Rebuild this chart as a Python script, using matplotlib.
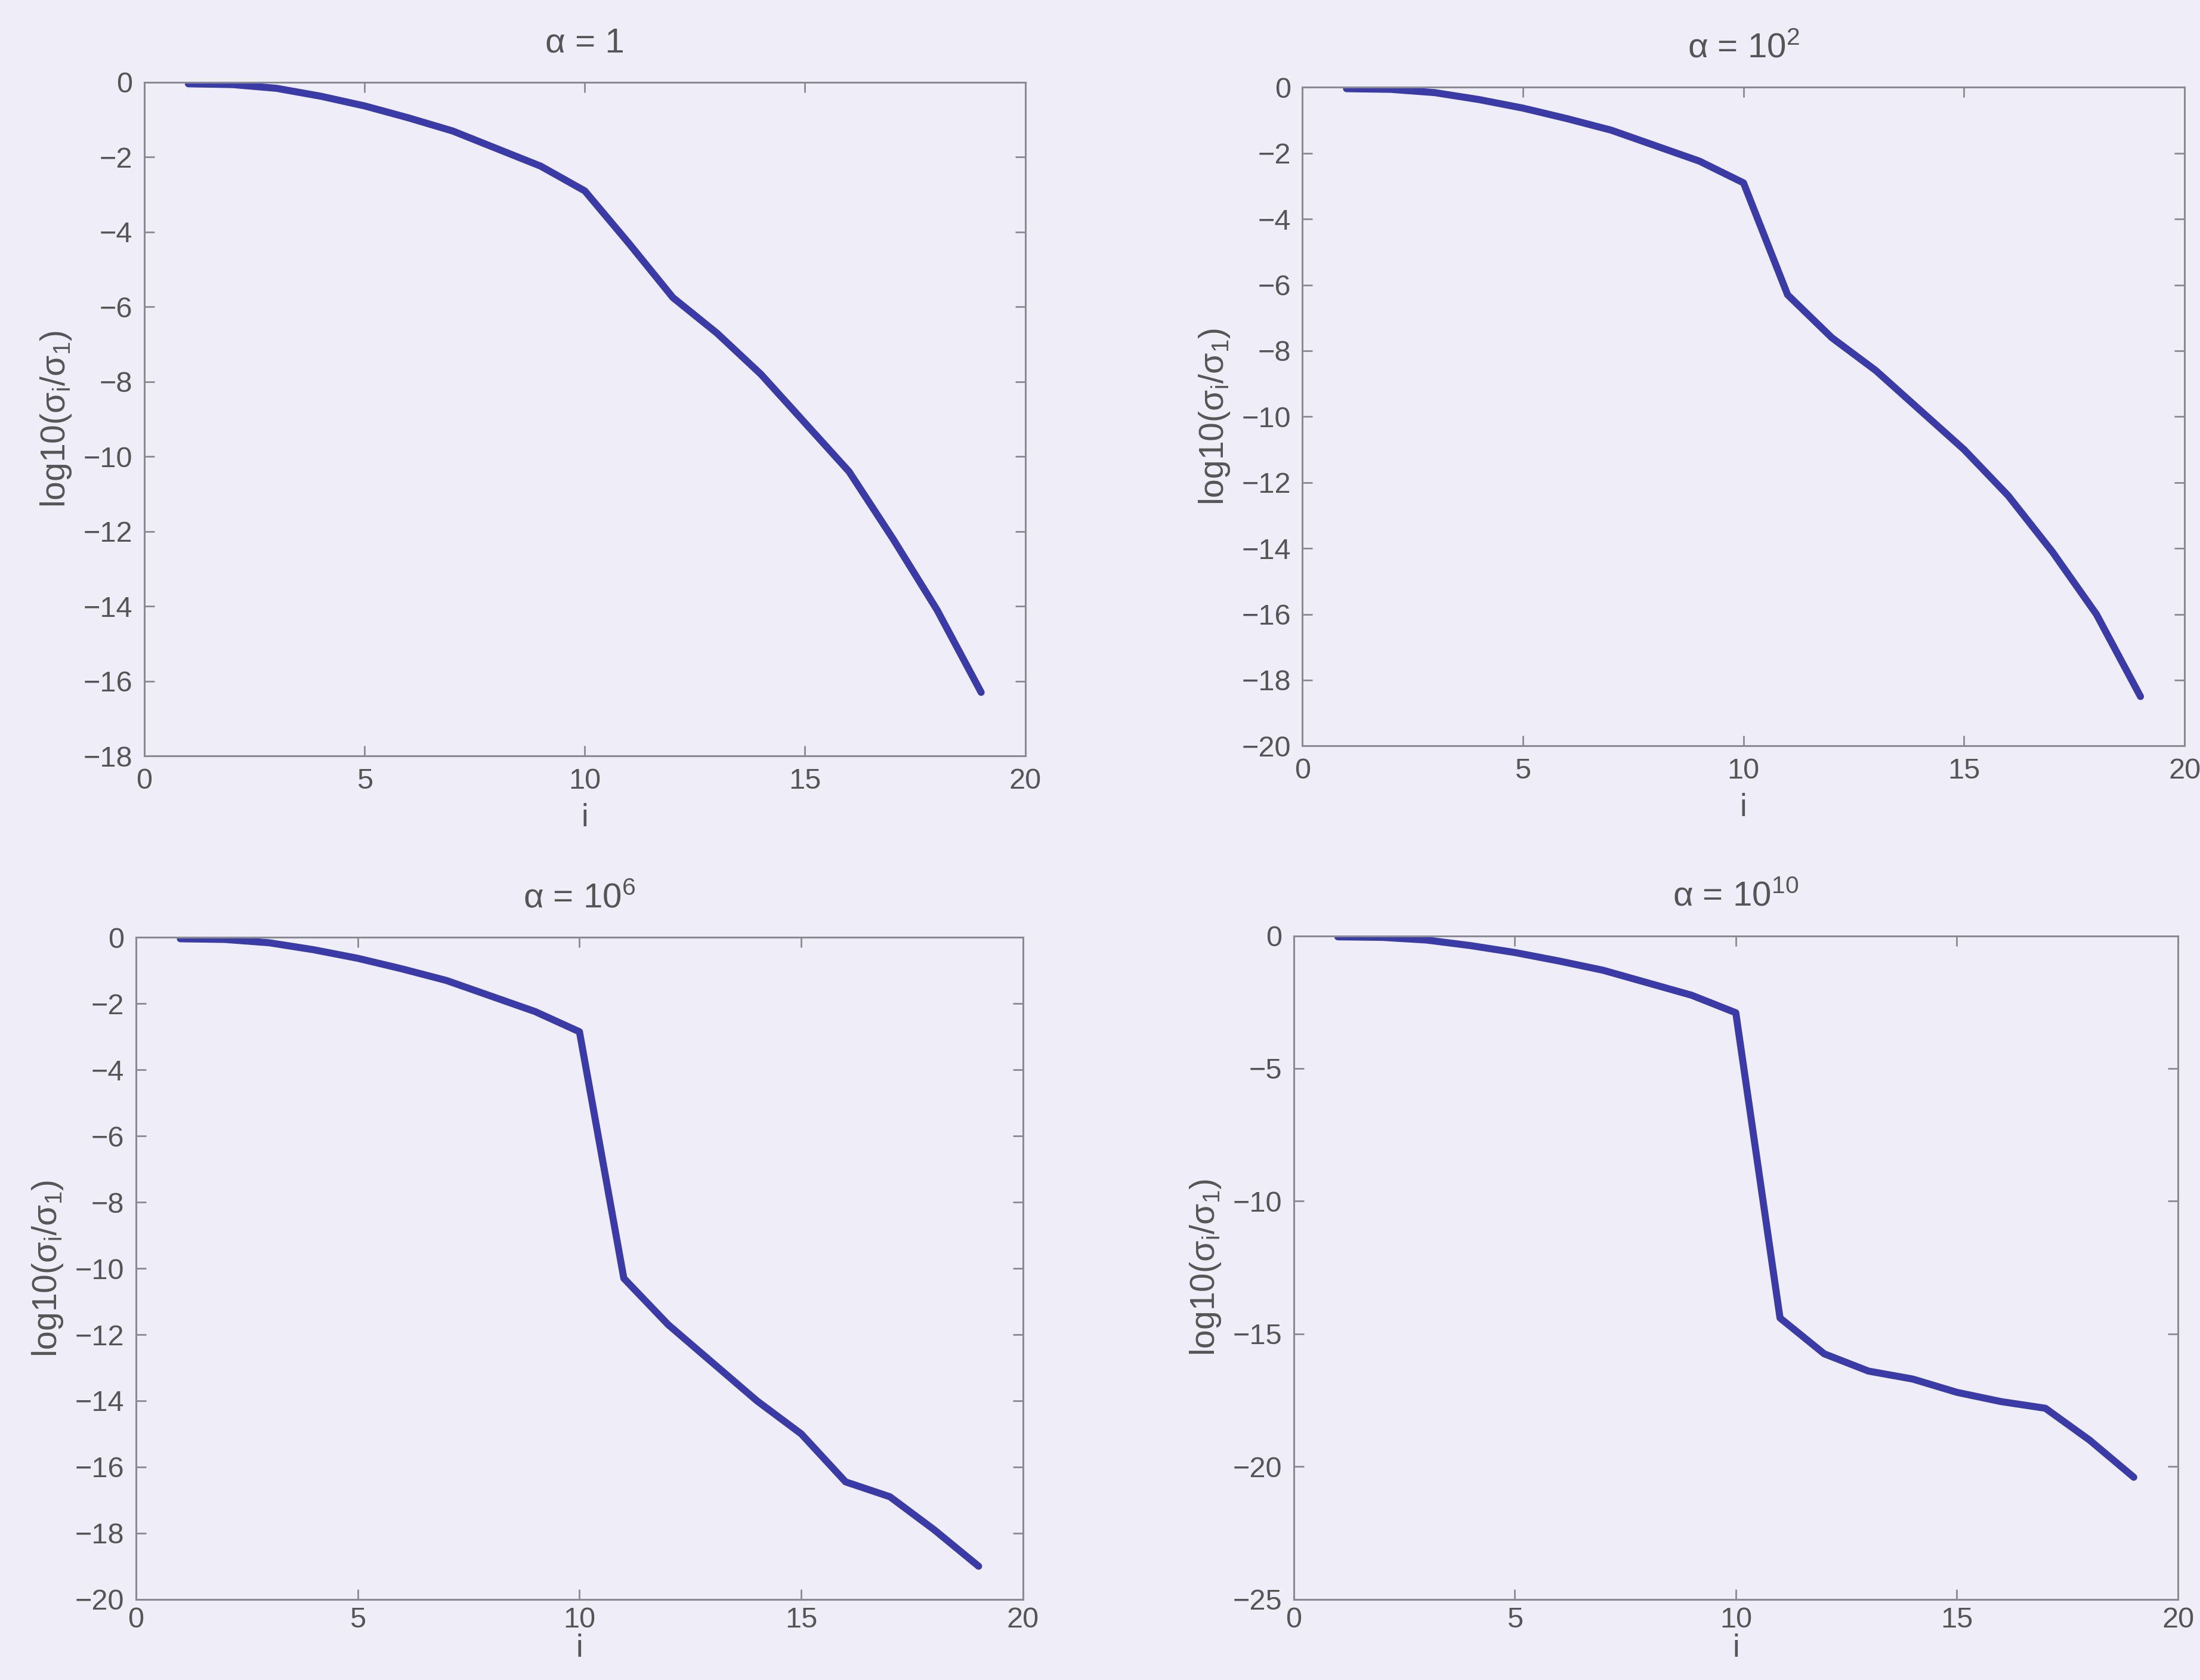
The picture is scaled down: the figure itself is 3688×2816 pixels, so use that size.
import matplotlib
matplotlib.use("Agg")
import matplotlib.pyplot as plt
import numpy as np

plt.rcParams['font.family'] = ['Liberation Sans', 'DejaVu Sans']
plt.rcParams['mathtext.default'] = 'regular'

idx = list(range(1, 20))
vals_a1 = [-0.04, -0.06, -0.16, -0.37, -0.63, -0.95, -1.3, -1.77, -2.24, -2.9,
           -4.3, -5.75, -6.7, -7.8, -9.1, -10.4, -12.2, -14.1, -16.3]
vals_a2 = [-0.04, -0.06, -0.16, -0.37, -0.63, -0.95, -1.3, -1.77, -2.24, -2.9,
           -6.3, -7.6, -8.6, -9.8, -11.0, -12.4, -14.1, -16.0, -18.5]
vals_a6 = [-0.04, -0.06, -0.16, -0.37, -0.63, -0.95, -1.3, -1.77, -2.24, -2.85,
           -10.3, -11.7, -12.85, -14.0, -15.0, -16.45, -16.9, -17.9, -19.0]
vals_a10 = [-0.04, -0.06, -0.16, -0.37, -0.63, -0.95, -1.3, -1.77, -2.24, -2.9,
            -14.4, -15.75, -16.4, -16.7, -17.2, -17.55, -17.8, -19.0, -20.4]

titles = [r'α = 1', r'α = 10$^{2}$', r'α = 10$^{6}$', r'α = 10$^{10}$']
ylims = [(-18, 0), (-20, 0), (-20, 0), (-25, 0)]
ysteps = [2, 2, 2, 5]
xticks = [0, 5, 10, 15, 20]

bg = '#efeef8'
line_c = '#3a3ba6'
txt_c = '#555555'
spine_c = '#8a8a92'

fig = plt.figure(figsize=(36.88, 28.16), dpi=100, facecolor=bg)
rects = [
    (0.0656, 0.550, 0.466 - 0.0656, 0.951 - 0.550),
    (0.592, 0.556, 0.993 - 0.592, 0.948 - 0.556),
    (0.0618, 0.048, 0.465 - 0.0618, 0.442 - 0.048),
    (0.588, 0.048, 0.990 - 0.588, 0.443 - 0.048),
]
series = [vals_a1, vals_a2, vals_a6, vals_a10]
xlabelpads = [10, 10, 0, 0]
xtickpads = [14, 14, 9, 9]

for rect, vals, title, yl, ys, lp, tp in zip(rects, series, titles, ylims, ysteps,
                                            xlabelpads, xtickpads):
    ax = fig.add_axes(rect)
    ax.set_facecolor(bg)
    ax.plot(idx, vals, color=line_c, lw=8.5, solid_capstyle='round',
            solid_joinstyle='round')
    ax.set_xlim(0, 20)
    ax.set_ylim(*yl)
    ax.set_xticks(xticks)
    ax.set_yticks(np.arange(yl[0], yl[1] + 0.1, ys))
    ax.tick_params(direction='in', length=12, width=2, colors=spine_c,
                   labelcolor=txt_c, labelsize=35, top=True, right=True, pad=14)
    ax.tick_params(axis='x', pad=tp)
    for s in ax.spines.values():
        s.set_color(spine_c)
        s.set_linewidth(2.2)
    ax.set_title(title, fontsize=42, color=txt_c, pad=36)
    ax.set_xlabel('i', fontsize=38, color=txt_c, labelpad=lp)
    ax.set_ylabel('log10(σ$_i$/σ$_1$)', fontsize=41, color=txt_c, labelpad=12)

fig.savefig('out.png', dpi=100, facecolor=bg)
